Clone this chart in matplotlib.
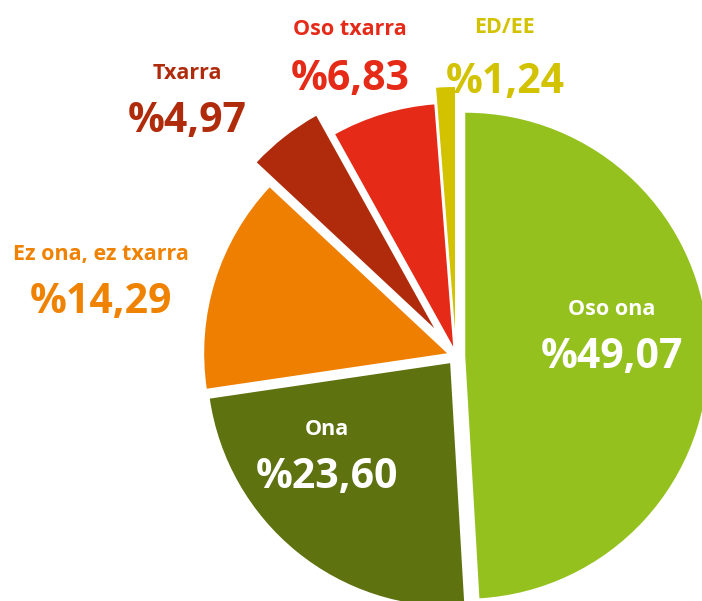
import matplotlib
matplotlib.use("Agg")
import matplotlib.pyplot as plt


# --------------------------------------------------
# Data
# --------------------------------------------------

labels = ["Oso ona", "Ona", "Ez ona, ez txarra", "Txarra", "Oso txarra", "ED/EE"]
values = [49.07, 23.60, 14.29, 4.97, 6.83, 1.24]

colors = ["#95C11F", "#5E7210", "#EF7F00", "#B02B0C", "#E52A17", "#D3C200"]
text_colors = ["white", "white", "#EF8200", "#B02B0C", "#E52A17", "#D3C200"]
# explode as fraction of the radius
explode_frac = [0.038, 0.038, 0.038, 0.145, 0.04, 0.107]

# label anchor (x centre, baseline of name, baseline of value) in pixel space
label_pos = [
    (612, 315, 368),
    (327, 435, 488),
    (101, 260, 313),
    (187, 79, 132),
    (350, 35, 90),
    (505, 33, 93),
]


# --------------------------------------------------
# Plot
# --------------------------------------------------

W, H = 702, 601
R = 243
fig = plt.figure(figsize=(W / 100, H / 100), dpi=100)
ax = fig.add_axes([0, 0, 1, 1])

# matplotlib's explode is an absolute offset, so scale by the radius
ax.pie(
    values,
    colors=colors,
    explode=[e * R for e in explode_frac],
    startangle=90,
    counterclock=False,
    center=(456, H - 356),
    radius=R,
    wedgeprops=dict(linewidth=0),
    frame=True,
)
ax.set_xlim(0, W)
ax.set_ylim(0, H)
ax.set_aspect("auto")
ax.axis("off")

for lab, val, tc, (x, yl, yv) in zip(labels, values, text_colors, label_pos):
    ax.text(x, H - yl, lab, ha="center", va="baseline", color=tc,
            fontsize=15.5, fontweight="bold", family="Open Sans")
    ax.text(x, H - yv, "%" + f"{val:.2f}".replace(".", ","), ha="center",
            va="baseline", color=tc, fontsize=29.5, fontweight="bold",
            family="Open Sans")

fig.savefig("out.png", dpi=100)
